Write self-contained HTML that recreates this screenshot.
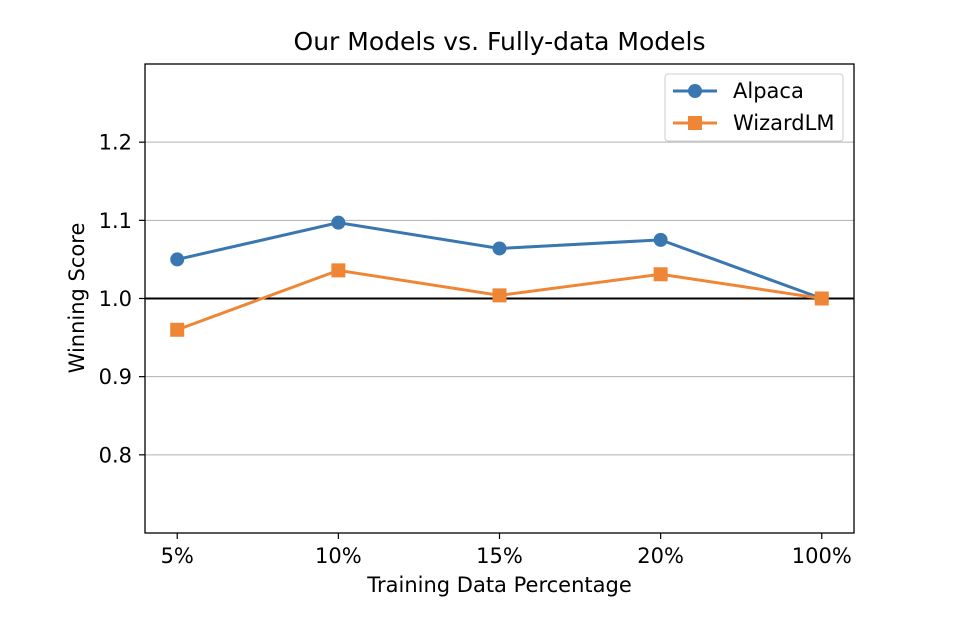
<!DOCTYPE html>
<html><head><meta charset="utf-8"><style>
body{margin:0;background:#fff;}
svg{display:block;font-family:"DejaVu Sans","Liberation Sans",sans-serif;}
</style></head><body>
<svg id="chart" width="972" height="622" viewBox="0 0 972 622">
<text x="499.5" y="50" text-anchor="middle" font-size="25" fill="#000">Our Models vs. Fully-data Models</text>
<g id="grid"></g>
<g id="yticks"></g>
<g id="xticks"></g>
<g id="series"></g>
<rect x="145" y="64" width="709" height="469" fill="none" stroke="#000" stroke-width="1.3"/>
<text x="499.5" y="592" text-anchor="middle" font-size="21">Training Data Percentage</text>
<text transform="translate(84,298) rotate(-90)" text-anchor="middle" font-size="21">Winning Score</text>
<g>
<rect x="665" y="74" width="178" height="67" rx="3" fill="#fff" stroke="#ccc" stroke-width="1"/>
<g>
<line x1="673" y1="91" x2="717" y2="91" stroke="#3a76af" stroke-width="3"/>
<circle cx="695" cy="91" r="7" fill="#3a76af"/>
<text x="733" y="98" font-size="21">Alpaca</text></g>
<g>
<line x1="673" y1="123" x2="717" y2="123" stroke="#ef8636" stroke-width="3"/>
<rect x="688" y="116" width="14" height="14" fill="#ef8636"/>
<text x="733" y="130" font-size="21">WizardLM</text></g>
</g>
</svg>
<script>
const categories=["5%","10%","15%","20%","100%"];
const alpaca=[1.050,1.097,1.064,1.075,1.000];
const wizardlm=[0.960,1.036,1.004,1.031,1.000];
const yTicks=[0.8,0.9,1.0,1.1,1.2];
const NS="http://www.w3.org/2000/svg";
const L=145,R=854,T=64,B=533,yMin=0.7,yMax=1.3,xMin=-0.2,xMax=4.2;
const xs=i=>L+(i-xMin)/(xMax-xMin)*(R-L);
const ys=v=>B-(v-yMin)/(yMax-yMin)*(B-T);
function mk(tag,attrs,parent){const e=document.createElementNS(NS,tag);for(const k in attrs)e.setAttribute(k,attrs[k]);document.getElementById(parent).appendChild(e);return e;}
yTicks.forEach(v=>{
 const y=ys(v);
 const g=mk("line",{x1:L,x2:R,y1:y,y2:y,stroke:v===1.0?"#000":"#b0b0b0","stroke-width":v===1.0?2:1},"grid");
 
 
 const t=mk("line",{x1:L-6,x2:L,y1:y,y2:y,stroke:"#000","stroke-width":1.2},"yticks");
 
 
 const tx=mk("text",{x:L-13,y:y+7.5,"text-anchor":"end","font-size":21},"yticks");
 tx.textContent=v.toFixed(1);
 
 
});
categories.forEach((c,i)=>{
 const x=xs(i);
 const t=mk("line",{x1:x,x2:x,y1:B,y2:B+6,stroke:"#000","stroke-width":1.2},"xticks");
 
 
 const tx=mk("text",{x:x,y:B+30,"text-anchor":"middle","font-size":21},"xticks");
 tx.textContent=c;
 
 
});
function series(vals,color,shape,name){
 const p=mk("polyline",{points:vals.map((v,i)=>xs(i)+","+ys(v)).join(" "),fill:"none",stroke:color,"stroke-width":3},"series");
 
 
 vals.forEach((v,i)=>{
  let m;
  if(shape==="circle")m=mk("circle",{cx:xs(i),cy:ys(v),r:7,fill:color},"series");
  else m=mk("rect",{x:xs(i)-7,y:ys(v)-7,width:14,height:14,fill:color},"series");
  
  
 });
}
series(alpaca,"#3a76af","circle","alpaca");
series(wizardlm,"#ef8636","square","wizardlm");
</script>
</body></html>
